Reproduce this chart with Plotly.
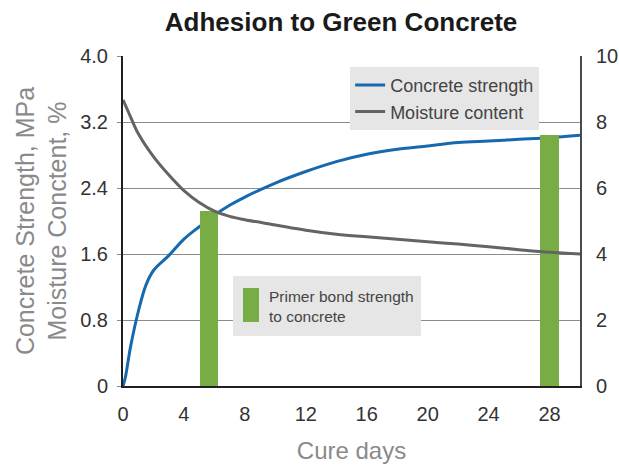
import plotly.graph_objects as go

# Cure time (days) and measured curves
strength_days = [0, 0.15, 0.5, 1, 1.5, 2, 3, 4, 5, 6, 7, 8, 10, 12, 14, 16, 18, 20, 22, 24, 26, 28, 30]
strength_mpa = [0, 0.10, 0.48, 0.90, 1.22, 1.40, 1.58, 1.78, 1.93, 2.07, 2.19, 2.29, 2.46,
                2.60, 2.72, 2.81, 2.87, 2.91, 2.95, 2.97, 2.99, 3.01, 3.04]

moisture_days = [0, 0.5, 1, 2, 3, 4, 5, 6, 7, 8, 10, 12, 14, 16, 18, 20, 22, 24, 26, 28, 30]
moisture_pct = [8.67, 8.15, 7.65, 6.95, 6.40, 5.92, 5.56, 5.30, 5.14, 5.04, 4.88, 4.72,
                4.60, 4.52, 4.45, 4.37, 4.30, 4.22, 4.13, 4.05, 4.00]

# Primer bond strength bars (right axis)
bond_days = [5.65, 28]
bond_values = [5.3, 7.6]

left_ticks = [0, 0.8, 1.6, 2.4, 3.2, 4.0]
left_labels = ["0", "0.8", "1.6", "2.4", "3.2", "4.0"]
right_ticks = [0, 2, 4, 6, 8, 10]
x_ticks = [0, 4, 8, 12, 16, 20, 24, 28]

FONT = "Liberation Sans, Arial, Helvetica, sans-serif"
BLUE = "#1769ad"
GREY_LINE = "#636466"
GREEN = "#78ad46"
BOX = "#e6e6e6"

fig = go.Figure()

fig.add_trace(go.Bar(
    x=bond_days, y=bond_values, yaxis="y2", width=1.2,
    marker=dict(color=GREEN, line=dict(width=0)),
    name="Primer bond strength to concrete", showlegend=False,
))
fig.add_trace(go.Scatter(
    x=strength_days, y=strength_mpa, mode="lines", line_shape="spline",
    line=dict(color=BLUE, width=3), name="Concrete strength",
))
fig.add_trace(go.Scatter(
    x=moisture_days, y=moisture_pct, yaxis="y2", mode="lines", line_shape="spline",
    line=dict(color=GREY_LINE, width=3), name="Moisture content",
))

# Key for the bars: grey box with a tall green swatch and a two-line label
fig.add_shape(type="rect", xref="paper", yref="paper",
              x0=0.2407, x1=0.652, y0=0.1515, y1=0.333,
              fillcolor=BOX, line=dict(width=0), layer="above")
fig.add_shape(type="rect", xref="paper", yref="paper",
              x0=0.2626, x1=0.2976, y0=0.194, y1=0.297,
              fillcolor=GREEN, line=dict(width=0), layer="above")
fig.add_annotation(xref="paper", yref="paper", x=0.315, y=0.2424,
                   xanchor="left", yanchor="middle", align="left", showarrow=False,
                   text="Primer bond strength<br>to concrete",
                   font=dict(size=15.5, color="#444444"))

fig.update_layout(
    width=619, height=466,
    margin=dict(l=123, r=39, t=56, b=80),
    paper_bgcolor="white", plot_bgcolor="white",
    font=dict(family=FONT, color="#333333", size=20),
    title=dict(text="<b>Adhesion to Green Concrete</b>", x=0.551, xanchor="center",
               y=0.953, yanchor="middle", font=dict(size=26, color="#1a1a1a")),
    bargap=0,
    xaxis=dict(range=[0, 30], tickvals=x_ticks, showgrid=False, zeroline=False,
               showline=True, linecolor="#231f20", linewidth=2, automargin=False,
               ticks="", ticklabelstandoff=9, tickfont=dict(size=20, color="#333333"),
               title=dict(text="Cure days", font=dict(size=24, color="#8a8a8a"), standoff=18)),
    yaxis=dict(range=[0, 4.0], tickvals=left_ticks, ticktext=left_labels,
               showgrid=True, gridcolor="#8c8c8c", gridwidth=1, zeroline=False,
               showline=True, linecolor="#231f20", linewidth=2, automargin=False,
               ticks="outside", ticklen=4, tickcolor="#8c8c8c", ticklabelstandoff=5,
               tickfont=dict(size=20, color="#333333"),
               title=dict(text="Concrete Strength, MPa<br>Moisture Conctent, %",
                          font=dict(size=25, color="#8a8a8a"), standoff=6)),
    yaxis2=dict(range=[0, 10], tickvals=right_ticks, overlaying="y", side="right",
                showgrid=False, zeroline=False, showline=True, automargin=False,
                linecolor="#4a4a4a", linewidth=2, ticks="", ticklabelstandoff=10,
                tickfont=dict(size=20, color="#333333")),
    legend=dict(x=0.497, y=0.967, xanchor="left", yanchor="top",
                bgcolor=BOX, font=dict(size=18, color="#444444"),
                itemwidth=30, tracegroupgap=0),
)

fig.write_html("out.html")
